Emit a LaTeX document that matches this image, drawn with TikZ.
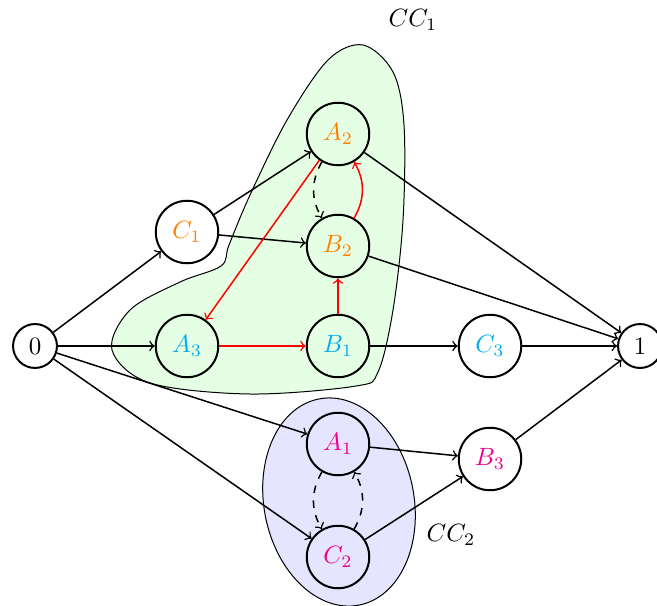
\documentclass[tikz,border=0pt]{standalone}
\definecolor{mycyan}{RGB}{0,174,239}
\definecolor{mymag}{RGB}{236,0,140}
\definecolor{myorange}{RGB}{255,128,0}
\begin{document}
\begin{tikzpicture}[x=0.4pt,y=-0.4pt,
  vtx/.style={circle,draw,thick,minimum size=25pt,inner sep=0pt},
  term/.style={circle,draw,thick},
  edg/.style={->,semithick},
  redg/.style={->,semithick,red},
  dedg/.style={->,semithick,dashed,bend right=30}]
\useasboundingbox (0,0) rectangle (657,605);
% connected components
\draw[fill=green!10] plot[smooth cycle,tension=0.55] coordinates {
  (363,45) (393,72) (404,125) (403,220) (393,310) (378,372) (356,386)
  (250,394) (150,383) (112,350) (130,310) (180,282) (221,266) (229,245)
  (250,195) (287,120) (328,60)};
\draw[fill=blue!10,rotate around={11:(339,502)}] (339,502) ellipse [x radius=75, y radius=105];
\node (cc1) at (413,20) {$CC_1$};
\node (cc2) at (451,535) {$CC_2$};
% vertices
\node[term] (n0) at (35,346) {$0$};
\node[term] (n1) at (640,346) {$1$};
\node[vtx,text=myorange] (C1) at (187,232) {$C_1$};
\node[vtx,text=myorange] (A2) at (338,134) {$A_2$};
\node[vtx,text=myorange] (B2) at (338,246) {$B_2$};
\node[vtx,text=mycyan] (A3) at (187,346) {$A_3$};
\node[vtx,text=mycyan] (B1) at (338,346) {$B_1$};
\node[vtx,text=mycyan] (C3) at (490,346) {$C_3$};
\node[vtx,text=mymag] (A1) at (338,444) {$A_1$};
\node[vtx,text=mymag] (B3) at (490,459) {$B_3$};
\node[vtx,text=mymag] (C2) at (338,557) {$C_2$};
% edges
\draw[edg] (n0) -- (C1);
\draw[edg] (n0) -- (A3);
\draw[edg] (n0) -- (A1);
\draw[edg] (n0) -- (C2);
\draw[edg] (C1) -- (A2);
\draw[edg] (C1) -- (B2);
\draw[edg] (A2) -- (n1);
\draw[edg] (B2) -- (n1);
\draw[edg] (B1) -- (C3);
\draw[edg] (C3) -- (n1);
\draw[edg] (A1) -- (B3);
\draw[edg] (C2) -- (B3);
\draw[edg] (B3) -- (n1);
\draw[redg] (A3) -- (B1);
\draw[redg] (B1) -- (B2);
\draw[redg] (B2) to[bend right=30] (A2);
\draw[redg] (A2) -- (A3);
\draw[dedg] (A2) to (B2);
\draw[dedg] (A1) to (C2);
\draw[dedg] (C2) to (A1);
\end{tikzpicture}
\end{document}
